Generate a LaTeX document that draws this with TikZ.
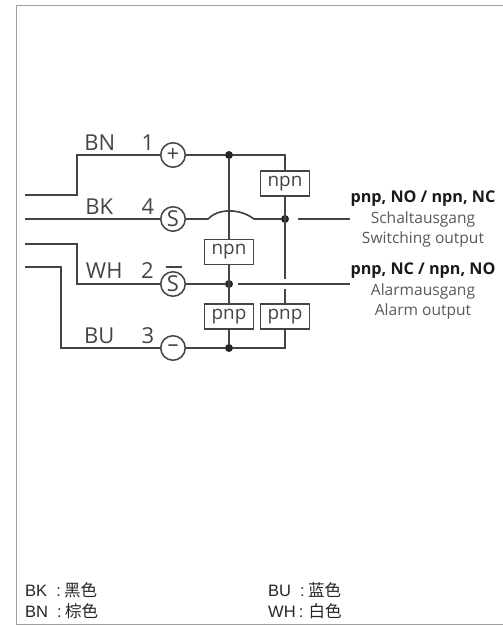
\documentclass[tikz,border=0pt]{standalone}
\usepackage{fontspec, tkz-euclide}
\setmainfont{Open Sans}
\newfontfamily\cjk{Noto Sans CJK SC}
\newfontfamily\keyfont{Liberation Sans}
\definecolor{wire}{HTML}{444444}
\definecolor{frameline}{HTML}{A0A0A0}
\tikzset{
    wireline/.style={draw=wire, line width=1.9pt},
    terminal/.style={circle, draw=wire, line width=1.7pt, fill=white, inner sep=0pt, minimum size=0.98cm, text=wire, font=\fontsize{25}{25}\selectfont},
    junction/.style={circle, fill=black!85, inner sep=0pt, minimum size=0.32cm},
    typebox/.style={rectangle, draw=wire, line width=1.7pt, fill=white, inner sep=0pt, minimum width=1.96cm, minimum height=1cm, text=wire, font=\fontsize{21.5}{21.5}\selectfont},
    pinlabel/.style={text=wire, inner sep=0pt, font=\fontsize{25}{25}\selectfont},
    outhead/.style={text=black!90, inner sep=0pt, font=\bfseries\fontsize{18.4}{18.4}\selectfont},
    outtext/.style={text=black!65, inner sep=0pt, font=\fontsize{17.7}{17.7}\selectfont},
    keytext/.style={text=black!85, anchor=west, inner sep=0pt, font=\fontsize{18.8}{18.8}\keyfont}
}
\begin{document}
\begin{tikzpicture}
    \useasboundingbox (0,0) rectangle (20.12,25.08);
    \tkzDefPoints{0.66/24.86/TL, 20.12/24.86/TR, 0.66/0.12/BL, 20.12/0.12/BR}
    \tkzDefPoints{1/17.28/A1, 3.08/17.28/A2, 3.08/18.88/A3, 1/16.32/B1}
    \tkzDefPoints{1/15.32/C1, 3.08/15.32/C2, 3.08/13.72/C3}
    \tkzDefPoints{1/14.4/D1, 2.44/14.4/D2, 2.44/11.16/D3}
    \tkzDefPoints{11.4/18.88/R1, 11.4/13.92/R2, 11.4/13.52/R3, 11.4/11.16/R4}
    \tkzDefPoints{8.32/16.32/G1, 10.16/16.32/G2, 6.62/14.4/S1, 7.26/14.4/S2}
    \tkzDefPoints{11.92/16.32/E1, 14/16.32/E2, 9.52/13.72/F1, 14/13.72/F2}
    \draw[frameline, line width=1.1pt] (TR) -- (TL) -- (BL) -- (BR);
    \node[terminal] (T1) at (6.92,18.88) {+};
    \node[terminal] (T4) at (6.92,16.32) {S};
    \node[terminal] (T2) at (6.92,13.72) {S};
    \node[terminal] (T3) at (6.92,11.16) {--};
    \node[junction] (J1) at (9.16,18.88) {};
    \node[junction] (J2) at (9.16,13.72) {};
    \node[junction] (J3) at (9.16,11.16) {};
    \node[junction] (J4) at (11.4,16.32) {};
    \draw[wireline] (A1) -- (A2) -- (A3) -- (T1) -- (J1) -- (R1) -- (R2);
    \draw[wireline] (B1) -- (T4) -- (G1) .. controls (8.72,16.75) and (9.6,16.75) .. (G2) -- (J4);
    \draw[wireline] (C1) -- (C2) -- (C3) -- (T2) -- (J2);
    \draw[wireline] (D1) -- (D2) -- (D3) -- (T3) -- (J3) -- (R4) -- (R3);
    \draw[wireline] (J1) -- (J3);
    \draw[wireline] (S1) -- (S2);
    \draw[wireline, line width=1.5pt] (E1) -- (E2);
    \draw[wireline, line width=1.5pt] (F1) -- (F2);
    \node[typebox] (N1) at (11.4,17.74) {npn};
    \node[typebox] (N2) at (9.16,15) {npn};
    \node[typebox] (P1) at (9.16,12.42) {pnp};
    \node[typebox] (P2) at (11.4,12.42) {pnp};
    \node[pinlabel] (LBN) at (3.99,19.36) {BN};
    \node[pinlabel] (L1) at (5.92,19.36) {1};
    \node[pinlabel] (LBK) at (3.97,16.8) {BK};
    \node[pinlabel] (L4) at (5.92,16.8) {4};
    \node[pinlabel] (LWH) at (4.17,14.24) {WH};
    \node[pinlabel] (L2) at (5.9,14.24) {2};
    \node[pinlabel] (LBU) at (3.97,11.64) {BU};
    \node[pinlabel] (L3) at (5.92,11.64) {3};
    \node[outhead] (O1) at (16.92,17.12) {pnp, NO / npn, NC};
    \node[outtext] (O2) at (16.92,16.32) {Schaltausgang};
    \node[outtext] (O3) at (16.92,15.52) {Switching output};
    \node[outhead] (O4) at (16.92,14.26) {pnp, NC / npn, NO};
    \node[outtext] (O5) at (16.92,13.44) {Alarmausgang};
    \node[outtext] (O6) at (16.92,12.64) {Alarm output};
    \node[keytext] (K1) at (1,1.48) {BK\hspace{.55em}:\hspace{.2em}{\cjk 黑色}};
    \node[keytext] (K2) at (1,0.64) {BN\hspace{.55em}:\hspace{.2em}{\cjk 棕色}};
    \node[keytext] (K3) at (10.72,1.48) {BU\hspace{.55em}:\hspace{.2em}{\cjk 蓝色}};
    \node[keytext] (K4) at (10.72,0.64) {WH\hspace{.2em}:\hspace{.3em}{\cjk 白色}};
\end{tikzpicture}
\end{document}
